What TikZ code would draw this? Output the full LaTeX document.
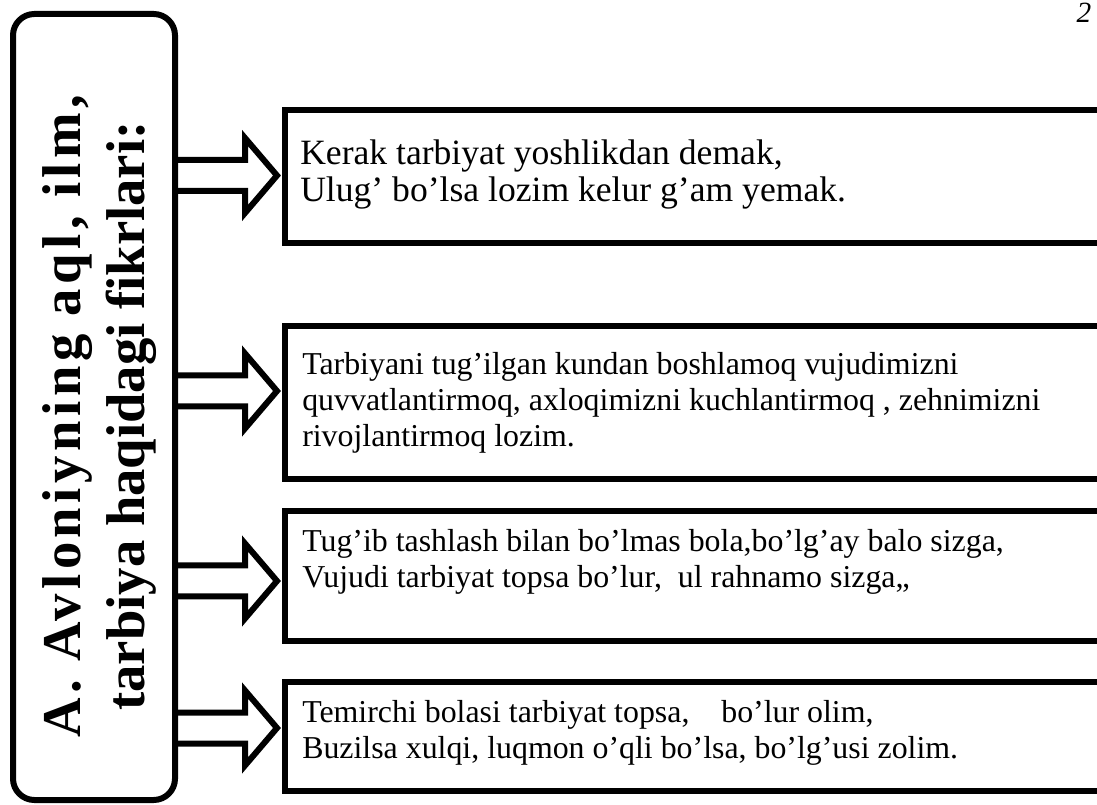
\documentclass[tikz,border=0pt]{standalone}
\usepackage{fontspec}
\setmainfont{Liberation Serif}[BoldFont={Liberation Serif Bold},ItalicFont={Liberation Serif Italic}]
\usetikzlibrary{calc}
\begin{document}
\lineskiplimit=-20pt
\begin{tikzpicture}[x=0.75pt,y=-0.75pt,
  frame/.style={draw=black,line width=4.5pt,rounded corners=16pt,inner sep=0pt,
    minimum width=121.5pt,minimum height=589.5pt},
  textbox/.style={draw=black,line width=4.5pt,inner sep=0pt,anchor=west,
    minimum width=628.5pt},
  boxtext/.style={inner sep=0pt,anchor=base west,align=left},
  blockarrow/.style={draw=black,line width=4.5pt,line join=miter,miter limit=10}]
  \clip (0,0) rectangle (1097,805);
  \fill[white] (0,0) rectangle (1097,805);

  % page number
  \node[inner sep=0pt,anchor=base,font=\itshape\fontsize{22}{22}\selectfont] (pg) at (1084,23) {2};

  % left title frame
  \node[frame] (main) at (94,407) {};
  \node[inner sep=0pt,rotate=90,align=center,
        font=\bfseries\fontsize{41}{48}\selectfont] (title) at (100,416)
        {{\addfontfeature{LetterSpace=8.3}A. Avloniyning aql, ilm,}\\tarbiya haqidagi fikrlari:};

  % statement boxes
  \node[textbox,minimum height=99.75pt]  (b1) at (282,176.5) {};
  \node[textbox,minimum height=114.75pt] (b2) at (282,402.5) {};
  \node[textbox,minimum height=97.5pt]   (b3) at (282,576) {};
  \node[textbox,minimum height=81.75pt]  (b4) at (282,736.5) {};

  \node[boxtext,font=\fontsize{26.7}{27.75}\selectfont] (t1) at (300,202)
    {Kerak tarbiyat yoshlikdan demak,\\Ulug’ bo’lsa lozim kelur g’am yemak.};
  \node[boxtext,font=\fontsize{23.9}{27}\selectfont] (t2) at (302,447)
    {Tarbiyani tug’ilgan kundan boshlamoq vujudimizni\\
     quvvatlantirmoq, axloqimizni kuchlantirmoq , zehnimizni\\
     rivojlantirmoq lozim.};
  \node[boxtext,font=\fontsize{23.9}{27}\selectfont] (t3) at (302,588)
    {Tug’ib tashlash bilan bo’lmas bola,bo’lg’ay balo sizga,\\
     Vujudi tarbiyat topsa bo’lur,\ \ ul rahnamo sizga,,};
  \node[boxtext,font=\fontsize{23.9}{27}\selectfont] (t4) at (302,758)
    {Temirchi bolasi tarbiyat topsa,\ \ \ \ bo’lur olim,\\
     Buzilsa xulqi, luqmon o’qli bo’lsa, bo’lg’usi zolim.};

  % hollow block arrows from the frame to each box
  \coordinate (a1) at (277,175.5);
  \coordinate (a2) at (277,391);
  \coordinate (a3) at (277,581);
  \coordinate (a4) at (277,728);
  \foreach \a in {a1,a2,a3,a4} {
    \draw[blockarrow]
      ($(main.east |- \a)+(0,-15.5)$) -- ($(\a)+(-32,-15.5)$) -- ($(\a)+(-32,-37.5)$)
      -- (\a) -- ($(\a)+(-32,37.5)$) -- ($(\a)+(-32,15.5)$) -- ($(main.east |- \a)+(0,15.5)$);
  }
\end{tikzpicture}
\end{document}
